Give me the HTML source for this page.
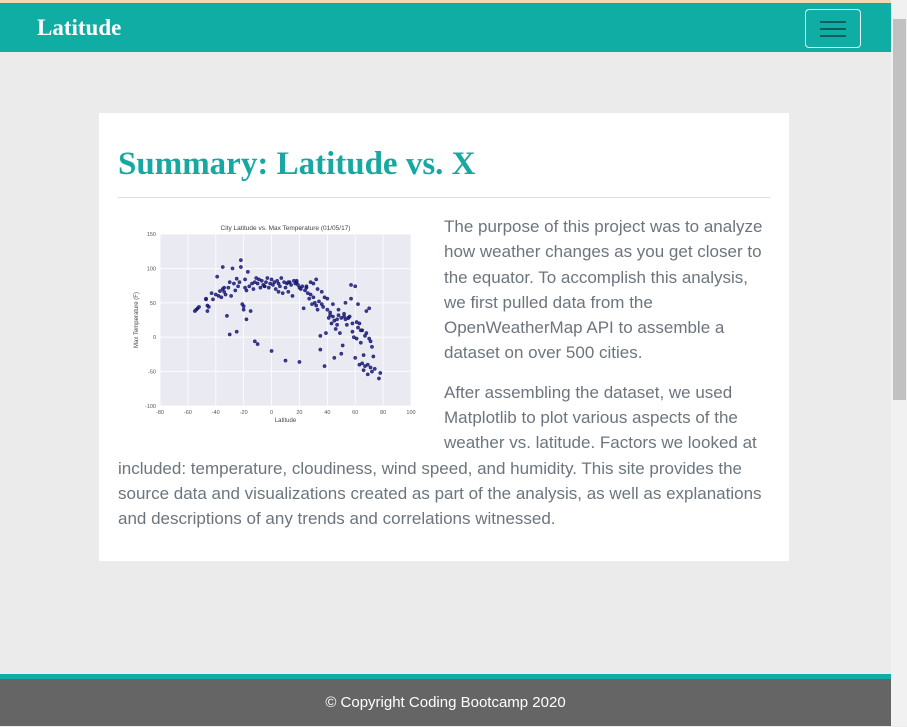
<!DOCTYPE html>
<html><head><meta charset="utf-8">
<style>
*{box-sizing:border-box}
body{margin:0;width:907px;height:726px;background:#ebebeb;font-family:"Liberation Sans",sans-serif;overflow:hidden;position:relative}
#topline{position:absolute;left:0;top:0;width:891px;height:3px;background:#f0d9b0}
#nav{position:absolute;left:0;top:3px;width:891px;height:49px;background:#0fada3}
#brand{position:absolute;left:37px;top:12px;color:#fff;font-family:"Liberation Serif",serif;font-weight:bold;font-size:23px}
#toggler{position:absolute;left:805px;top:6px;width:56px;height:39px;border:1px solid #e6f6f5;border-radius:4px}
#toggler i{position:absolute;left:14px;width:26px;height:2px;background:#0b5e5a}
#scroll{position:absolute;left:891px;top:0;width:16px;height:726px;background:#f1f1f1}
#thumb{position:absolute;left:893px;top:19px;width:13px;height:381px;background:#c1c1c1}
#card{position:absolute;left:99px;top:113px;width:690px;height:448px;background:#fff}
h1{position:absolute;left:19px;top:33px;margin:0;font-family:"Liberation Serif",serif;font-weight:bold;font-size:33px;color:#17a9a1}
#hr{position:absolute;left:19px;top:84px;width:652px;height:1px;background:#ddd}
#text{position:absolute;left:19px;top:101px;width:652px;font-size:17px;line-height:25.3px;color:#6c757d}
#text p{margin:0 0 14px 0}
#chart{float:left;width:310px;height:232px;margin-right:16px;margin-top:0}
#foot{position:absolute;left:0;top:674px;width:891px;height:52px;background:#656565;border-top:5px solid #0fada3;color:#fff;font-size:15px;text-align:center;line-height:48px}
</style></head><body>
<div id="topline"></div>
<div id="nav">
<div id="brand">Latitude</div>
<div id="toggler"><i style="top:11px"></i><i style="top:18px"></i><i style="top:25px"></i></div>
</div>
<div id="scroll"></div>
<div id="thumb"></div>
<div id="card">
<h1>Summary: Latitude vs. X</h1>
<div id="hr"></div>
<div id="text">
<svg id="chart" width="310" height="232" viewBox="0 0 310 232"></svg>
<p>The purpose of this project was to analyze how weather changes as you get closer to the equator. To accomplish this analysis, we first pulled data from the OpenWeatherMap API to assemble a dataset on over 500 cities.</p>
<p>After assembling the dataset, we used Matplotlib to plot various aspects of the weather vs. latitude. Factors we looked at included: temperature, cloudiness, wind speed, and humidity. This site provides the source data and visualizations created as part of the analysis, as well as explanations and descriptions of any trends and correlations witnessed.</p>
</div>
</div>
<div id="foot">© Copyright Coding Bootcamp 2020</div>
<script>
const xTicks=[-80,-60,-40,-20,0,20,40,60,80,100];
const yTicks=[-100,-50,0,50,100,150];
const lats=[-55,-54,-53,-52,-47,-47,-46,-46,-45,-43,-42,-40,-39,-38,-37,-36,-35,-35,-34,-34,-33,-32,-31,-30,-29,-28,-27,-26,-25,-24,-23,-22,-22,-21,-20,-20,-19,-19,-18,-17,-16,-15,-14,-13,-12,-11,-10,-9,-8,-7,-6,-5,-4,-3,-2,-1,0,1,2,3,4,5,6,7,8,9,10,11,12,13,14,15,16,17,18,19,20,21,22,23,24,25,26,27,28,29,30,31,32,33,34,35,36,37,38,39,40,41,42,43,44,45,46,47,48,49,50,51,52,53,54,55,56,57,58,59,60,61,62,63,64,65,66,67,68,69,70,71,72,73,74,78,77,-30,-25,-18,-12,-5,5,12,18,25,30,33,36,40,44,48,52,55,58,62,65,68,70,72,60,63,66,69,50,45,38,35,42,47,53,57,61,64,67,71,-10,0,10,20,28,32];
const temps=[38,40,42,44,55,56,38,46,44,64,55,62,88,60,67,58,102,70,72,66,62,31,72,80,60,100,78,68,85,74,80,112,102,48,40,45,84,72,68,95,74,38,78,70,80,86,78,84,72,82,76,74,80,86,72,78,84,76,80,70,82,78,74,86,64,80,72,78,66,80,76,60,82,78,80,76,72,70,74,42,68,72,64,56,62,48,58,50,46,40,52,2,48,44,58,6,40,28,36,20,30,24,12,18,32,6,28,-12,30,26,18,28,30,76,8,0,74,-2,48,20,-8,-38,-48,-42,38,-40,42,-44,-50,-28,-46,-52,-60,4,8,26,-6,74,66,80,82,74,78,70,66,56,48,40,34,28,20,14,10,6,-2,-14,-30,-40,-26,-54,-24,-30,-42,-18,32,26,50,56,22,10,2,-6,-10,-20,-34,-36,80,84,76,72,60,52];
const svg=document.getElementById('chart');
const NS='http://www.w3.org/2000/svg';
const L=42,R=293,T=20,B=192;
const sx=v=>L+(v-xTicks[0])/(xTicks[xTicks.length-1]-xTicks[0])*(R-L);
const sy=v=>B-(v-yTicks[0])/(yTicks[yTicks.length-1]-yTicks[0])*(B-T);
function mk(tag,a){const e=document.createElementNS(NS,tag);for(const k in a)e.setAttribute(k,a[k]);svg.appendChild(e);return e;}
const bg=mk('rect',{x:L,y:T,width:R-L,height:B-T,fill:'#eaeaf2'});


xTicks.forEach(t=>{const g=mk('line',{x1:sx(t),x2:sx(t),y1:T,y2:B,stroke:'#fff','stroke-width':0.8});


const l=mk('text',{x:sx(t),y:B+8,'font-size':5.5,'text-anchor':'middle',fill:'#555'});l.textContent=t;

});
yTicks.forEach(t=>{const g=mk('line',{x1:L,x2:R,y1:sy(t),y2:sy(t),stroke:'#fff','stroke-width':0.8});


const l=mk('text',{x:L-4,y:sy(t)+2,'font-size':5.5,'text-anchor':'end',fill:'#555'});l.textContent=t;

});
lats.forEach((la,i)=>{const c=mk('circle',{cx:sx(la),cy:sy(temps[i]),r:1.7,fill:'#1a1a80',stroke:'#000050','stroke-width':0.3,'fill-opacity':0.85});

});
const ti=mk('text',{x:(L+R)/2,y:T-4,'font-size':6.5,'text-anchor':'middle',fill:'#444'});ti.textContent='City Latitude vs. Max Temperature (01/05/17)';


const xl=mk('text',{x:(L+R)/2,y:B+16,'font-size':6,'text-anchor':'middle',fill:'#444'});xl.textContent='Latitude';


const yl=mk('text',{x:0,y:0,'font-size':6,'text-anchor':'middle',fill:'#444',transform:`translate(${L-22},${(T+B)/2}) rotate(-90)`});yl.textContent='Max Temperature (F)';


</script>
</body></html>
